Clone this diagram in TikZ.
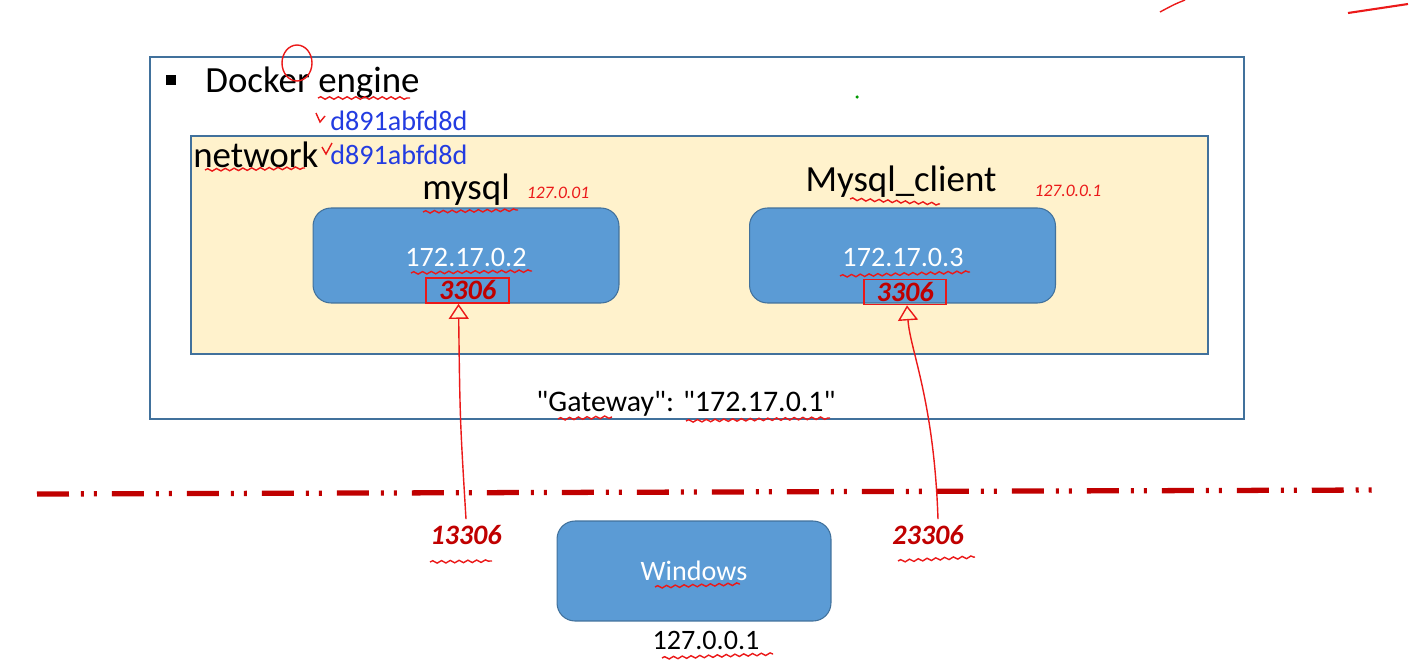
\documentclass[tikz,border=0pt]{standalone}
\usepackage{fontspec}
\setmainfont{Carlito}
\usetikzlibrary{arrows.meta,decorations.pathmorphing}

\definecolor{frameblue}{RGB}{65,113,156}
\definecolor{hostblue}{RGB}{91,155,213}
\definecolor{netyellow}{RGB}{255,242,204}
\definecolor{idblue}{RGB}{35,60,225}
\definecolor{portred}{RGB}{192,0,0}
\definecolor{penred}{RGB}{235,25,25}

\begin{document}
\begin{tikzpicture}[x=0.02cm, y=-0.02cm,
    hostbox/.style={draw=frameblue, fill=hostblue, line width=0.6pt, rounded corners=0.36cm,
      minimum width=6.12cm, minimum height=1.9cm, text=white, font=\fontsize{16}{18}\selectfont},
    portbox/.style={draw=penred, line width=1pt, inner sep=0pt, minimum width=1.65cm,
      minimum height=0.5cm, text=portred, font=\fontsize{16}{18}\selectfont\bfseries\itshape},
    portlabel/.style={text=portred, font=\fontsize{16}{18}\selectfont\bfseries\itshape},
    bigtext/.style={font=\fontsize{21}{24}\selectfont},
    idtext/.style={text=idblue, font=\fontsize{16}{18}\selectfont, anchor=west},
    pen/.style={penred, line width=0.8pt},
    squiggle/.style={pen, decorate, decoration={snake, amplitude=0.7pt, segment length=5pt}},
    scribble/.style={text=penred, font=\fontsize{10}{12}\selectfont\itshape}]
  \useasboundingbox (0,0) rectangle (1413,663);

  % caixes de fons
  \node[draw=frameblue, line width=0.75pt, fill=white, minimum width=21.88cm, minimum height=7.24cm] (engine) at (697,238) {};
  \node[draw=frameblue, line width=0.75pt, fill=netyellow, minimum width=20.34cm, minimum height=4.36cm] (network) at (699.5,245) {};

  % textos de la xarxa
  \node[fill=black, minimum size=0.2cm, inner sep=0pt] (bullet) at (171,80) {};
  \node[bigtext, anchor=west, inner sep=0pt] (enginelabel) at (205,83) {Docker engine};
  \node[idtext, inner sep=0pt] (engineid) at (330,121) {d891abfd8d};
  \node[bigtext, anchor=west, inner sep=0pt] (netlabel) at (193,155) {network};
  \node[idtext, inner sep=0pt] (netid) at (330,155) {d891abfd8d};
  \node[bigtext, inner sep=0pt] (mysqllabel) at (466,190) {mysql};
  \node[bigtext, inner sep=0pt] (clientlabel) at (901,182) {Mysql\_client};

  % contenidors
  \node[hostbox] (mysql) at (466,255.5) {};
  \node[text=white, font=\fontsize{16}{18}\selectfont] (mysqlip) at (466,257) {172.17.0.2};
  \node[portbox] (mport) at (467.5,290.5) {3306};
  \node[hostbox] (client) at (902.5,255.5) {};
  \node[text=white, font=\fontsize{16}{18}\selectfont] (clientip) at (903,257) {172.17.0.3};
  \node[portbox] (cport) at (905,292) {3306};

  \node[font=\fontsize{17}{20}\selectfont] (gateway) at (686,404) {\textquotedbl Gateway\textquotedbl: \textquotedbl 172.17.0.1\textquotedbl};

  % línia de separació
  \draw[portred, line width=3pt, dash pattern=on 0.64cm off 0.24cm on 0.06cm off 0.2cm on 0.06cm off 0.3cm] (37,494) -- (1378,490);

  % host
  \node[hostbox, minimum width=5.48cm, minimum height=2cm] (windows) at (694,571) {Windows};
  \node[font=\fontsize{16}{18}\selectfont] (localhost) at (706,640) {127.0.0.1};
  \node[portlabel] (hport1) at (466,535) {13306};
  \node[portlabel] (hport2) at (928,535) {23306};

  % fletxes de ports
  \draw[pen, -{Triangle[open, width=0.4cm, length=0.3cm, line width=0.8pt]}] (hport1.north) .. controls (460,420) .. ([xshift=-0.18cm]mport.south);
  \draw[pen, -{Triangle[open, width=0.4cm, length=0.3cm, line width=0.8pt]}] ([xshift=0.2cm]hport2.north) .. controls (934,400) and (910,350) .. ([xshift=0.04cm]cport.south);

  % anotacions a mà
  \draw[pen] (297,63) ellipse [x radius=0.3cm, y radius=0.36cm];
  \draw[pen] (316,113) -- (320,122) -- (325,116);
  \draw[pen] (322,147) -- (326,154) -- (332,143);
  \node[scribble] (note1) at (558,193) {127.0.01};
  \node[scribble] (note2) at (1068,191) {127.0.0.1};
  \draw[squiggle] (318,98) -- (410,98);
  \draw[squiggle] (205,170) -- (305,168);
  \draw[squiggle] (423,212) -- (518,210);
  \draw[squiggle] (850,199) -- (940,204);
  \draw[squiggle] (411,273) -- (532,271);
  \draw[squiggle] (840,276) -- (970,272);
  \draw[squiggle] (558,419) -- (612,417);
  \draw[squiggle] (686,421) -- (830,418);
  \draw[squiggle] (430,562) -- (492,561);
  \draw[squiggle] (898,561) -- (975,557);
  \draw[squiggle] (655,587) -- (740,584);
  \draw[squiggle] (662,658) -- (773,654);
  \draw[pen, line width=1.2pt] (1348,13) -- (1408,4);
  \draw[pen] (1160,12) .. controls (1175,4) .. (1185,0);
  \fill[green!60!black] (857,97) circle (1pt);
\end{tikzpicture}
\end{document}
